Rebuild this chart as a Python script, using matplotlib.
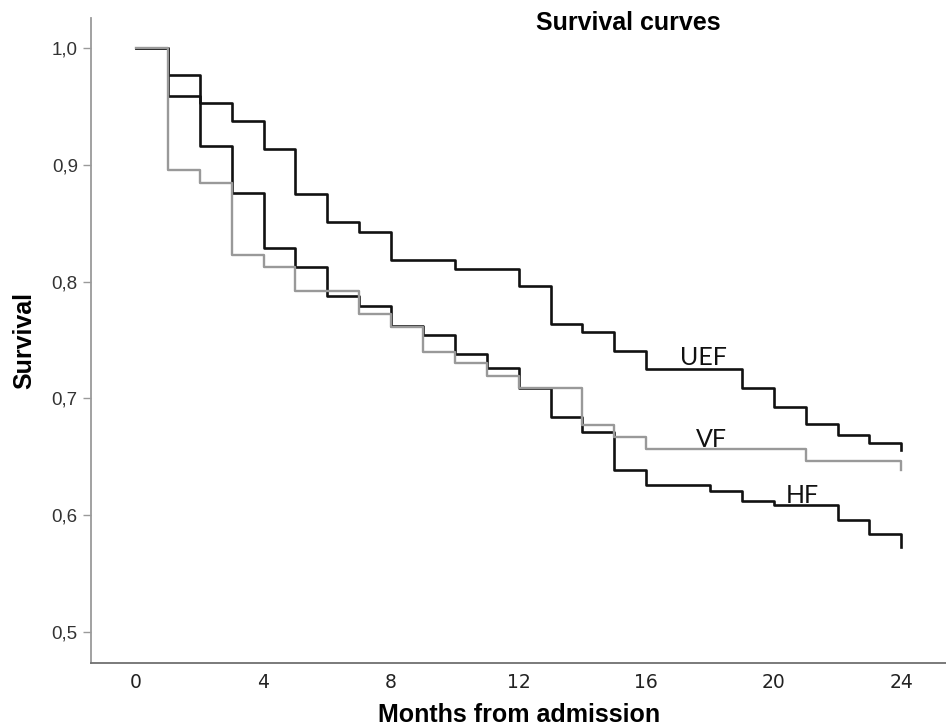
import matplotlib
matplotlib.use('Agg')
import matplotlib.pyplot as plt

# Kaplan-Meier style step data (months, survival)
uef_months = [0, 1, 2, 3, 4, 5, 6, 7, 8, 10, 12, 13, 14, 15, 16, 19, 20, 21, 22, 23, 24]
uef_surv = [1.0, 0.977, 0.953, 0.938, 0.914, 0.875, 0.851, 0.843, 0.819, 0.811, 0.796,
            0.764, 0.757, 0.741, 0.725, 0.709, 0.693, 0.678, 0.669, 0.662, 0.656]

hf_months = [0, 1, 2, 3, 4, 5, 6, 7, 8, 9, 10, 11, 12, 13, 14, 15, 16, 18, 19, 20, 22, 23, 24]
hf_surv = [1.0, 0.959, 0.916, 0.876, 0.829, 0.813, 0.788, 0.779, 0.762, 0.754, 0.738, 0.726,
           0.709, 0.684, 0.671, 0.639, 0.626, 0.621, 0.612, 0.609, 0.596, 0.584, 0.573]

vf_months = [0, 1, 2, 3, 4, 5, 7, 8, 9, 10, 11, 12, 14, 15, 16, 21, 24]
vf_surv = [1.0, 0.896, 0.885, 0.823, 0.813, 0.792, 0.772, 0.761, 0.740, 0.730, 0.719,
           0.709, 0.677, 0.667, 0.657, 0.646, 0.639]

x_ticks = [0, 4, 8, 12, 16, 20, 24]
y_ticks = [0.5, 0.6, 0.7, 0.8, 0.9, 1.0]
y_tick_labels = ['0,5', '0,6', '0,7', '0,8', '0,9', '1,0']

fig = plt.figure(figsize=(9.46, 7.26), dpi=100)
ax = fig.add_axes([0.0962, 0.0868, 0.9038, 0.8882])

ax.step(uef_months, uef_surv, where='post', color='#111111', lw=1.9, zorder=2)
ax.step(hf_months, hf_surv, where='post', color='#111111', lw=1.9, zorder=2)
ax.step(vf_months, vf_surv, where='post', color='#999999', lw=1.7, zorder=3)

lab_font = dict(family=['Lato', 'DejaVu Sans'], fontsize=18, color='#111111', ha='center', va='center')
ax.text(17.8, 0.7355, 'UEF', **lab_font)
ax.text(18.06, 0.6645, 'VF', **lab_font)
ax.text(20.9, 0.6172, 'HF', **lab_font)

ax.set_xlim(-1.41, 25.4)
ax.set_ylim(0.4733, 1.026)
ax.set_xticks(x_ticks)
ax.set_yticks(y_ticks)
ax.set_yticklabels(y_tick_labels)

for s in ['top', 'right']:
    ax.spines[s].set_visible(False)
ax.spines['left'].set_color('#9a9a9a')
ax.spines['left'].set_linewidth(1.3)
ax.spines['bottom'].set_color('#707070')
ax.spines['bottom'].set_linewidth(1.3)

ax.tick_params(axis='y', length=6, width=1, color='#9a9a9a', pad=3.5, labelsize=13.5, labelcolor='#333333')
ax.tick_params(axis='x', length=0, pad=7, labelsize=12, labelcolor='#222222')
for t in ax.get_yticklabels():
    t.set_family('Liberation Sans')
for t in ax.get_xticklabels():
    t.set_family('Liberation Sans Narrow')
    t.set_fontsize(13.5)

ax.set_ylabel('Survival', fontsize=18, fontweight='bold', family='Liberation Sans', va='center')
ax.yaxis.set_label_coords(-0.078, 0.50)
ax.set_xlabel('Months from admission', fontsize=18, fontweight='bold', family='Liberation Sans', va='center')
ax.xaxis.set_label_coords(0.501, -0.08)

ax.text(0.628, 0.992, 'Survival curves', transform=ax.transAxes, fontsize=18, fontweight='bold',
        family='Liberation Sans', ha='center', va='center')

fig.savefig('out.png', dpi=100)
